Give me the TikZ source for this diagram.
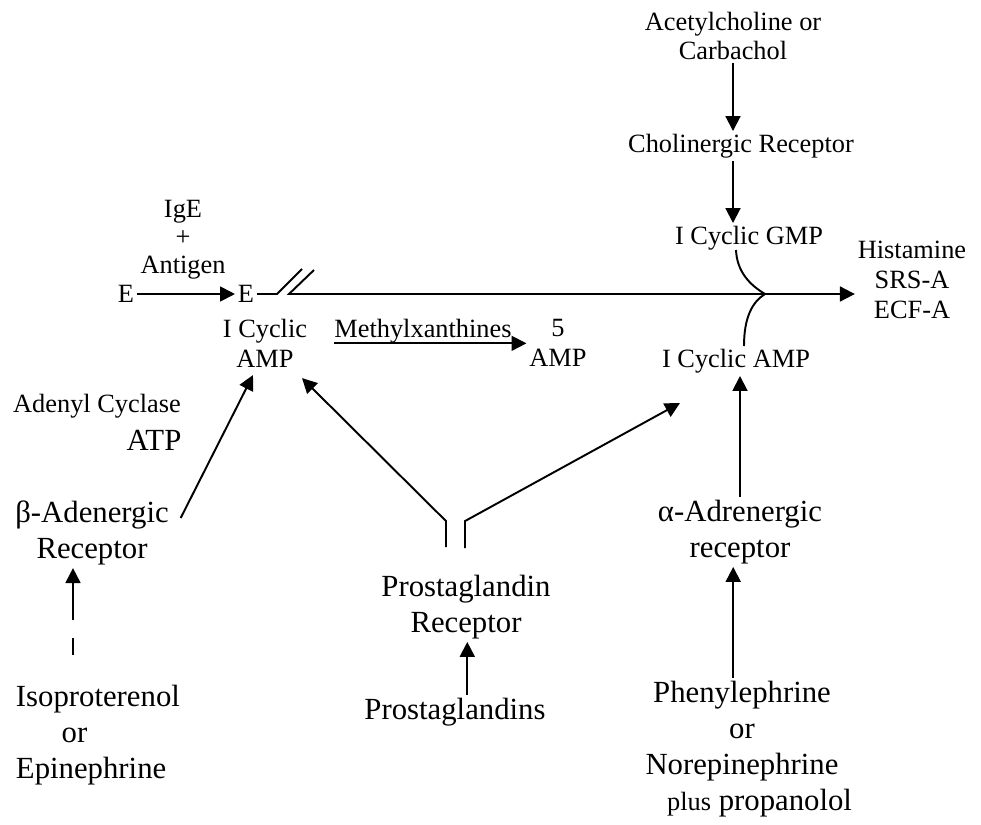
\documentclass[tikz,border=0pt]{standalone}
\usepackage{fontspec}
\setmainfont{Liberation Serif}
\usetikzlibrary{arrows.meta, positioning}

\begin{document}
\begin{tikzpicture}[
  x=0.02cm, y=-0.02cm,
  smalltxt/.style={font=\fontsize{15}{17}\selectfont, align=center, inner sep=1.5pt},
  largetxt/.style={font=\fontsize{17.5}{20.5}\selectfont, align=center, inner sep=1.5pt},
  link/.style={line width=1.1pt},
  >={Triangle[length=8.5pt, width=8.5pt]}
]
\useasboundingbox (0,0) rectangle (981,825);

\node[smalltxt] (acetyl) at (733,36) {Acetylcholine or\\Carbachol};
\node[smalltxt] (cholin) at (741,146) {Cholinergic Receptor};
\node[smalltxt] (cgmp) at (749,238) {I Cyclic GMP};
\node[smalltxt, font=\fontsize{15}{16}\selectfont] (ige) at (183,240) {IgE\\+\\Antigen};
\node[smalltxt] (eleft) at (126,294) {E};
\node[smalltxt] (eright) at (246,294) {E};
\node[smalltxt] (hist) at (912,280) {Histamine\\SRS-A\\ECF-A};
\node[smalltxt] (cyc) at (265,343) {I Cyclic\\AMP};
\node[smalltxt, inner sep=0pt] (meth) at (423,331) {Methylxanthines};
\node[smalltxt] (amp) at (558,343) {5\\AMP};
\node[smalltxt] (campr) at (736,361) {I Cyclic AMP};
\node[smalltxt] (adenyl) at (97,406) {Adenyl Cyclase};
\node[largetxt] (atp) at (154,440) {ATP};
\node[largetxt] (betarec) at (92,533) {β-Adenergic\\Receptor};
\node[largetxt] (alpharec) at (740,532) {α-Adrenergic\\receptor};
\node[largetxt] (prost) at (466,607) {Prostaglandin\\Receptor};
\node[largetxt] (prostg) at (455,712) {Prostaglandins};
\node[largetxt, align=left, anchor=west] (iso) at (13,735) {Isoproterenol\\\hspace*{26pt}or\\Epinephrine};
\node[largetxt] (phenyl) at (742,749) {Phenylephrine\\or\\Norepinephrine\\\hspace*{20pt}{\fontsize{15}{17}\selectfont plus} propanolol};

\coordinate (brk) at (289,294);
\coordinate (meet) at (765,294);
\coordinate (isoarrow) at (73,620);

\draw[link,->] (acetyl.south) -- (acetyl.south |- cholin.north);
\draw[link,->] (acetyl.south |- cholin.south) -- (acetyl.south |- cgmp.north);
\draw[link,->] (eleft) -- (eright);
\draw[link] (eright.east) -- ++(20,0) -- ++(25,-25);
\draw[link,->] ([shift={(25,-24)}]brk) -- (brk) -- (hist.west |- brk);
\draw[link] (736,250) .. controls (737,272) and (750,285) .. (meet)
  .. controls (752,302) and (744,318) .. (744,346);
\draw[link,->] (meth.south west) -- (meth.south west -| amp.west);
\draw[link,->] ([shift={(9,-15)}]betarec.east) -- ([shift={(-12,5)}]cyc.south);
\draw[link,->] ([shift={(-20,-25)}]prost.north) -- ++(0,-26) -- ([shift={(37,8)}]cyc.south);
\draw[link,->] ([shift={(-1,-24)}]prost.north) -- ++(0,-27) -- ([shift={(-56,27)}]campr.south);
\draw[link,->] ([xshift=7pt]prostg.north) -- ([xshift=7pt]prostg.north |- prost.south);
\draw[link,->] (alpharec.north) -- (alpharec.north |- campr.south);
\draw[link,->] ([xshift=-5pt]phenyl.north) -- ([xshift=-5pt]phenyl.north |- alpharec.south);
\draw[link] (73,655) -- (73,638);
\draw[link,->] (isoarrow) -- (isoarrow |- betarec.south);
\end{tikzpicture}
\end{document}
